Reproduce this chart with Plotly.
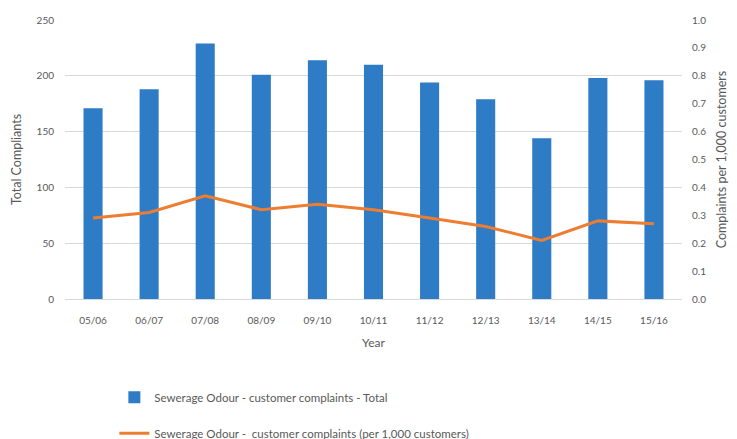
import plotly.graph_objects as go

years = ["05/06", "06/07", "07/08", "08/09", "09/10", "10/11", "11/12", "12/13", "13/14", "14/15", "15/16"]
total_complaints = [171, 188, 229, 201, 214, 210, 194, 179, 144, 198, 196]
per_1000 = [0.29, 0.31, 0.37, 0.32, 0.34, 0.32, 0.29, 0.26, 0.21, 0.28, 0.27]

bar_name = "Sewerage Odour - customer complaints - Total"
line_name = "Sewerage Odour -  customer complaints (per 1,000 customers)"

FONT = "Lato"
GREY = "#595959"

fig = go.Figure()
fig.add_trace(go.Bar(
    x=years, y=total_complaints, name=bar_name,
    marker=dict(color="#2E7BC6", line=dict(width=0)),
    width=0.34, legendgroup="a", yaxis="y",
))
fig.add_trace(go.Scatter(
    x=years, y=per_1000, name=line_name, mode="lines",
    line=dict(color="#ED7D31", width=3),
    legendgroup="b", yaxis="y2",
))

fig.update_layout(
    width=737, height=439,
    margin=dict(l=65, r=55, t=20, b=140, autoexpand=False),
    paper_bgcolor="white", plot_bgcolor="white",
    font=dict(family=FONT, color=GREY, size=10),
    xaxis=dict(
        type="category", range=[-0.5, 10.5],
        showgrid=False, showline=True, linecolor="#D9D9D9", linewidth=1,
        ticks="", tickfont=dict(size=10, color=GREY), ticklabelstandoff=12,
        title=dict(text="Year", font=dict(size=12, color=GREY), standoff=13),
    ),
    yaxis=dict(
        range=[0, 250], dtick=50, showgrid=True, gridcolor="#D9D9D9", gridwidth=1,
        zeroline=False, showline=False, ticks="",
        tickfont=dict(size=10, color=GREY), ticklabelstandoff=10,
        title=dict(text="Total Compliants", font=dict(size=12.5, color=GREY), standoff=12),
    ),
    yaxis2=dict(
        range=[0, 1.0], dtick=0.1, tickformat=".1f", overlaying="y", side="right",
        showgrid=False, zeroline=False, showline=False, ticks="",
        tickfont=dict(size=10, color=GREY), ticklabelstandoff=9,
        title=dict(text="Complaints per 1,000 customers", font=dict(size=12.5, color=GREY), standoff=12),
    ),
    legend=dict(
        x=0.08, xanchor="left", y=-0.3, yanchor="top",
        orientation="v", traceorder="grouped", tracegroupgap=17,
        font=dict(size=11.5, color=GREY, family=FONT),
        bgcolor="rgba(0,0,0,0)", itemwidth=30,
    ),
    showlegend=True,
    bargap=0.66,
)

fig.write_html("out.html")
